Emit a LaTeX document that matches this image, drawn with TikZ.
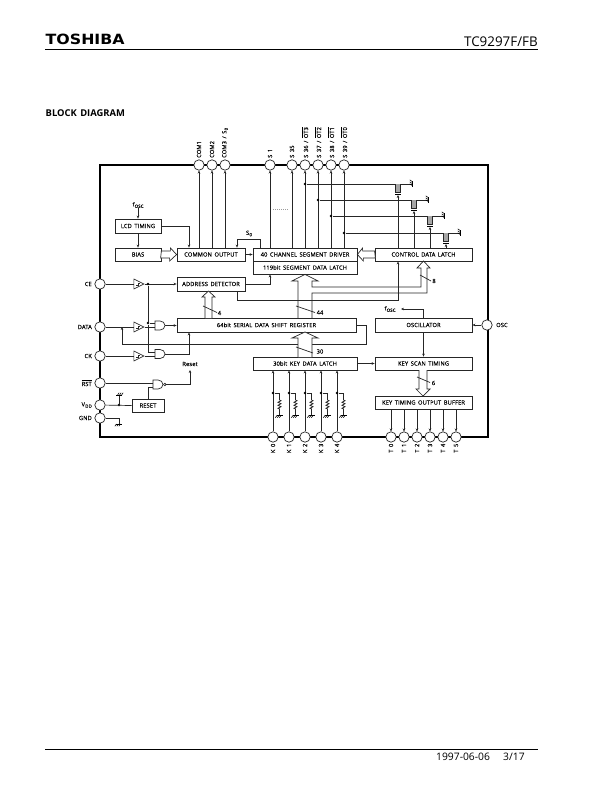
\documentclass[tikz,border=0pt]{standalone}
\usepackage{fontspec}
\setmainfont{Open Sans}
\newfontfamily\lblfont[LetterSpace=2.5,WordSpace=1.6,FakeBold=.04]{Open Sans}
\newfontfamily\brandfont[FakeStretch=1.12]{DejaVu Sans}
\usetikzlibrary{arrows.meta,shapes.geometric,decorations.pathmorphing}
\newcommand{\lowtxt}[1]{\raisebox{-.45ex}{\fontsize{4.4}{5}\selectfont\kern.3pt #1}}
\newcommand{\barred}[1]{$\overline{\mbox{#1}}$}
\tikzset{
  wire/.style={line width=.7pt,draw=black!85},
  arr/.style={wire,-{Stealth[length=3pt,width=2.6pt]}},
  hollow/.style={line width=.7pt,draw=black!85,fill=white,line join=miter},
  blockbox/.style={draw=black!85,line width=.75pt,fill=white,inner sep=0pt,font=\lblfont\fontsize{5.7}{6}\selectfont},
  lbl/.style={inner sep=0pt,font=\lblfont\fontsize{5.7}{6}\selectfont},
  uplbl/.style={lbl,rotate=90,anchor=west},
  downlbl/.style={lbl,rotate=90,anchor=east},
  chippin/.style={circle,draw=black!85,line width=.7pt,fill=white,minimum size=10.4pt,inner sep=0pt},
  dot/.style={circle,fill=black,minimum size=2.6pt,inner sep=0pt},
  inbuf/.style={isosceles triangle,isosceles triangle stretches,draw=black!85,line width=.6pt,fill=white,
    minimum height=10pt,minimum width=10pt,inner sep=0pt,
    path picture={\draw[line width=.35pt] ([shift={(-3pt,-1pt)}]path picture bounding box.center) -- ++(2pt,0) -- ++(0,2pt) -- ++(2pt,0);}},
  gatebox/.style={minimum width=10pt,minimum height=9pt,inner sep=0pt},
  andbody/.pic={\draw[wire,fill=white] (-5,-4.5) -- (0,-4.5) arc[start angle=90,end angle=-90,x radius=5,y radius=-4.5] -- (-5,4.5) -- cycle;},
  earth/.pic={\draw[line width=.6pt] (-3,0) -- (3,0);
    \foreach \q in {-2.6,-.6,1.4} \draw[line width=.6pt] (\q,0) -- ++(-1.5,2.2);},
  mosfet/.pic={\fill[black!35] (-2.5,0) rectangle (2.5,8.5);
    \draw[wire] (-2.5,0) -- (-2.5,8.5) -- (2.5,8.5) -- (2.5,0);
    \draw[line width=.8pt] (-3,10.5) -- (3,10.5);},
}
\begin{document}
\begin{tikzpicture}[x=1pt,y=-1pt]
\useasboundingbox (0,0) rectangle (612,792);

% page furniture
\node[anchor=base west,inner sep=0pt] (brand) at (45.5,45) {\brandfont\bfseries\fontsize{14.1}{16}\selectfont TOSHIBA};
\node[anchor=base east,inner sep=0pt] (part) at (538,47) {\fontsize{13.4}{15}\selectfont TC9297F/FB};
\coordinate (rulea) at (45,49.5); \coordinate (ruleb) at (538,49.5);
\draw[line width=.9pt] (rulea) -- (ruleb);
\node[anchor=west,inner sep=0pt] (heading) at (45.5,113.5) {\bfseries\fontsize{9.4}{11}\selectfont BLOCK\kern1pt\ DIAGRAM};
\coordinate (rulec) at (45,749); \coordinate (ruled) at (538,749);
\draw[line width=.8pt] (rulec) -- (ruled);
\node[anchor=base west,inner sep=0pt] (date) at (436,760) {\fontsize{10.3}{12}\selectfont 1997-06-06};
\node[anchor=base west,inner sep=0pt] (page) at (503,760) {\fontsize{10.3}{12}\selectfont 3/17};

% package outline
\node[draw,line width=1.4pt,minimum width=388pt,minimum height=272pt,inner sep=0pt] (chip) at (294,301) {};

% functional blocks
\node[blockbox,minimum width=46pt,minimum height=14pt] (lcd) at (138,226) {LCD TIMING};
\node[blockbox,minimum width=46pt,minimum height=13pt] (bias) at (138,254.5) {BIAS};
\node[blockbox,minimum width=68pt,minimum height=13pt] (common) at (211,254.5) {COMMON OUTPUT};
\node[blockbox,minimum width=104pt,minimum height=13pt] (driver) at (305,254.5) {40 CHANNEL SEGMENT DRIVER};
\node[blockbox,minimum width=104pt,minimum height=13pt] (seglatch) at (305,267.5) {119bit SEGMENT DATA LATCH};
\node[blockbox,minimum width=97pt,minimum height=13pt] (ctrl) at (423.5,254.5) {CONTROL DATA LATCH};
\node[blockbox,minimum width=68pt,minimum height=14pt] (addr) at (211,284) {ADDRESS DETECTOR};
\node[blockbox,minimum width=179pt,minimum height=14pt] (shift) at (266.5,325) {64bit SERIAL DATA SHIFT REGISTER};
\node[blockbox,minimum width=104pt,minimum height=13pt] (keylatch) at (305,363.5) {30bit KEY DATA LATCH};
\node[blockbox,minimum width=97pt,minimum height=14pt] (osc) at (423.5,325) {OSCILLATOR};
\node[blockbox,minimum width=97pt,minimum height=13pt] (scan) at (423.5,363.5) {KEY SCAN TIMING};
\node[blockbox,minimum width=97pt,minimum height=13pt] (keybuf) at (423.5,402.5) {KEY TIMING OUTPUT BUFFER};
\node[blockbox,minimum width=32pt,minimum height=13pt] (reset) at (148,405.5) {RESET};

% top pins and their drivers
\foreach \n/\x/\t in {com1/199/COM1,com2/212/COM2,com3/225/{COM3 / S\lowtxt{0}}}{
  \node[chippin] (\n) at (\x,165) {};
  \node[uplbl] (\n t) at (\x,158) {\t};
  \draw[arr] (common.north -| \n) -- (\n);
}
\foreach \n/\x/\t in {s1/270/{S 1},s35/292/{S 35},s36/305/{S 36 / \barred{OT3}},s37/318/{S 37 / \barred{OT2}},s38/331/{S 38 / \barred{OT1}},s39/344/{S 39 / \barred{OT0}}}{
  \node[chippin] (\n) at (\x,165) {};
  \node[uplbl] (\n t) at (\x,158) {\t};
  \draw[arr] (driver.north -| \n) -- (\n);
}
\foreach \x in {279,283.5} \fill (\x,165) circle (.7);
\foreach \x in {273.5,275.5,...,287.5} \fill[black!60] (\x,209.5) circle (.35);

% timing and common output connections
\node[lbl] (fa) at (138,205) {f\lowtxt{OSC}};
\draw[arr] (fa) -- (lcd);
\draw[arr] (lcd) -- (bias);
\coordinate (lcdturn) at (189,226);
\draw[arr] (lcd) -- (lcdturn) -- (common.north -| lcdturn);
\coordinate (soa) at (237,239); \coordinate (sob) at (260,239);
\draw[arr] (driver.north -| sob) -- (sob) -- (soa) -- (common.north -| soa);
\node[lbl] (sol) at (249,233.5) {S\lowtxt{0}};
\draw[arr] (common) -- (driver);
\draw[hollow] (bias.east) ++(0,-3.5) -- ++(9,0) -- ++(0,-3) -- (common.west) -- ++(-7,6.5) -- ++(0,-3) -- ++(-9,0) -- cycle;
\draw[hollow] (ctrl.west) ++(0,-3.5) -- ++(-12,0) -- ++(0,-3) -- (driver.east) -- ++(6,6.5) -- ++(0,-3) -- ++(12,0) -- cycle;

% output transistors fed by the control latch
\foreach \n/\s/\x/\y/\e in {a/s36/398/184/412,b/s37/414/200/428,c/s38/430/216/444,d/s39/446/233/460}{
  \coordinate (m\n) at (\x,\y);
  \coordinate (e\n) at (\e,\y);
  \coordinate (g\n) at (\x,\y+11);
  \node[dot] (j\n) at (\s |- m\n) {};
  \draw[wire] (j\n) -- ([xshift=-2.5pt]m\n);
  \draw[wire] ([xshift=2.5pt]m\n) -- (e\n);
  \pic at (m\n) {mosfet};
  \pic[rotate=-90] at (e\n) {earth};
  \draw[arr] (ctrl.north -| m\n) -- (g\n);
}

% input section
\node[chippin] (ce) at (100,284) {};
\node[chippin] (data) at (100,327) {};
\node[chippin] (ck) at (100,356) {};
\node[chippin] (rst) at (100,383) {};
\node[chippin] (vdd) at (100,405) {};
\node[chippin] (gnd) at (100,418) {};
\node[lbl,anchor=east] at (92,284) {CE};
\node[lbl,anchor=east] at (92,327) {DATA};
\node[lbl,anchor=east] at (92,356) {CK};
\node[lbl,anchor=east] at (92,383) {\barred{RST}};
\node[lbl,anchor=east] at (92,405) {V\lowtxt{DD}};
\node[lbl,anchor=east] at (92,418) {GND};

\node[inbuf] (bce) at (137,284) {};
\node[inbuf] (bda) at (137,327) {};
\node[inbuf] (bck) at (137,356) {};
\node[gatebox] (anda) at (160,325.5) {};
\node[gatebox] (andb) at (160,354) {};
\node[gatebox] (nandr) at (158,384.5) {};
\pic at (anda) {andbody};
\pic at (andb) {andbody};
\pic at (nandr) {andbody};
\node[circle,draw=black!85,line width=.6pt,fill=white,minimum size=2.6pt,inner sep=0pt,anchor=west] (nbub) at (nandr.east) {};

\draw[wire] (ce) -- (bce.west);
\draw[arr] (bce.east) -- (addr.west);
\draw[wire] (data) -- (bda.west);
\draw[wire] (ck) -- (bck.west);
\coordinate (ain1) at (155,323); \coordinate (ain2) at (155,327);
\coordinate (bin1) at (155,352); \coordinate (bin2) at (155,356);
\coordinate (rin1) at (153,383); \coordinate (rin2) at (153,387);
\node[dot] (jce) at (148,284) {};
\node[dot] (jda) at (148,323) {};
\coordinate (jdb) at (148,352);
\draw[wire] (jce) -- (jda) -- (ain1);
\draw[wire] (jda) -- (jdb) -- (bin1);
\draw[wire] (bda.east) -- (ain2);
\draw[wire] (bck.east) -- (bin2);
\draw[arr] (anda.east) -- (shift.west |- anda.east);
\coordinate (andturn) at (189,354);
\draw[arr] (andb.east) -- (andturn) -- (shift.south -| andturn);

\coordinate (fba) at (366,325); \coordinate (fbb) at (366,344); \coordinate (fbc) at (122,344);
\draw[arr] (shift.east) -- (fba) -- (fbb) -- (fbc) -- (fbc |- data);

% reset logic
\coordinate (rturn) at (190,384.5);
\coordinate (rtip) at (190,370);
\draw[wire] (rst) -- (rin1);
\draw[arr] (nbub.east) -- (rturn) -- (rtip);
\node[lbl] (rlab) at (190,364) {Reset};
\draw[wire] (reset.north) -- (reset.north |- rin2) -- (rin2);
\node[dot] (jvd) at (119,405) {};
\draw[wire] (vdd) -- (reset.west);
\coordinate (vtop) at (119,395);
\draw[wire] (jvd) -- (vtop);
\pic[rotate=180] at (vtop) {earth};
\coordinate (gnda) at (119,418); \coordinate (gndb) at (119,424);
\draw[wire] (gnd) -- (gnda) -- (gndb);
\pic at (gndb) {earth};

% internal buses
\coordinate (adturn) at (270,284);
\draw[arr] (addr.east) -- (adturn) -- (seglatch.south -| adturn);
\coordinate (aturn) at (237,300); \coordinate (aend) at (398,300);
\draw[arr] (addr.south -| aturn) -- (aturn) -- (aend) -- (ctrl.south -| aend);

\draw[hollow,fill=none] (298,318) -- (298,281) -- (292,281) -- (seglatch.south) -- (318,281) -- (312,281) -- (312,287) -- (421,287) -- (421,268) -- (417,268) -- (423.5,261) -- (430,268) -- (427,268) -- (427,293) -- (312,293) -- (312,318);
\draw[hollow] (205,318) -- (205,297) -- (202,297) -- (208.5,291) -- (215,297) -- (212,297) -- (212,318);
\draw[hollow] (298,357) -- (298,338) -- (292,338) -- (305,332) -- (318,338) -- (312,338) -- (312,357);
\draw[hollow] (419,370) -- (419,389) -- (416,389) -- (423,396) -- (430,389) -- (427,389) -- (427,370);

\draw[wire] (203,306) -- (217,312.5); \node[lbl] (n4) at (219.5,313) {4};
\draw[wire] (296,306) -- (315,312.5); \node[lbl] (n44) at (320,312.5) {44};
\draw[wire] (296,347) -- (313,353); \node[lbl] (n30) at (320,351.5) {30};
\draw[wire] (420,275) -- (431,281); \node[lbl] (n8) at (434,281) {8};
\draw[wire] (417,377) -- (430,382.5); \node[lbl] (n6) at (433.5,383) {6};

% oscillator chain
\node[chippin] (oscp) at (487,325) {};
\node[lbl,anchor=west] at (496,325) {OSC};
\draw[arr] (oscp) -- (osc.east);
\coordinate (fturn) at (423.5,309); \coordinate (ftip) at (401,309);
\draw[arr] (osc.north -| fturn) -- (fturn) -- (ftip);
\node[lbl] (fb) at (390,309) {f\lowtxt{OSC}};
\draw[arr] (osc) -- (scan);
\draw[arr] (keylatch) -- (scan);

% key inputs with pull-down resistors
\foreach \i/\x in {0/273,1/289,2/305,3/321,4/337}{
  \node[chippin] (k\i) at (\x,437) {};
  \node[downlbl] (k\i t) at (\x,443.5) {K \i};
  \draw[arr] (k\i) -- (keylatch.south -| k\i);
  \node[dot] (jk\i) at (\x,393) {};
  \coordinate (ra\i) at (\x+6.5,393);
  \coordinate (rb\i) at (\x+6.5,400);
  \coordinate (rc\i) at (\x+6.5,410);
  \coordinate (rd\i) at (\x+6.5,415.5);
  \draw[wire] (jk\i) -- (ra\i) -- (rb\i);
  \draw[wire,decorate,decoration={zigzag,segment length=3pt,amplitude=1.6pt}] (rb\i) -- (rc\i);
  \draw[wire] (rc\i) -- (rd\i);
  \pic at (rd\i) {earth};
}

% key timing outputs
\foreach \i/\x in {0/391,1/404,2/417,3/430,4/443,5/456}{
  \node[chippin] (t\i) at (\x,437) {};
  \node[downlbl] (t\i t) at (\x,443.5) {T \i};
  \draw[arr] (keybuf.south -| t\i) -- (t\i);
}
\end{tikzpicture}
\end{document}
